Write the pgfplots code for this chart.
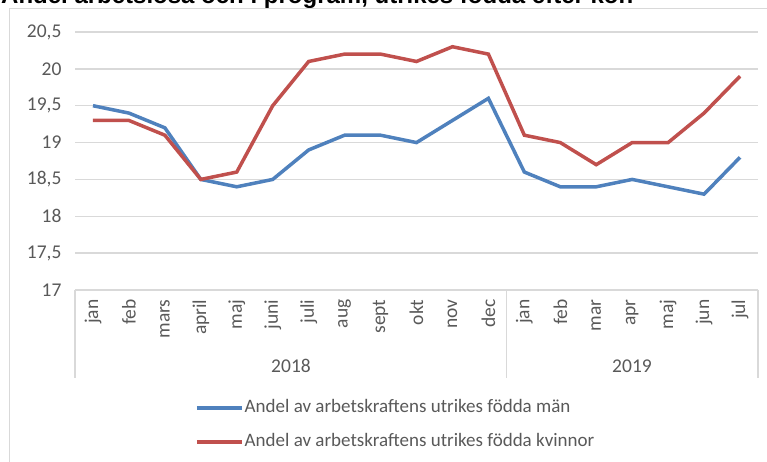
\documentclass[border=0pt]{standalone}
\usepackage{pgfplots}
\pgfplotsset{compat=1.18}
\usepackage{fontspec}
\setmainfont{Carlito}
\newfontfamily\titlefont{Liberation Sans}

\definecolor{menblue}{RGB}{79,129,189}
\definecolor{womenred}{RGB}{192,80,77}
\definecolor{gridgray}{RGB}{217,217,217}
\definecolor{labelgray}{RGB}{89,89,89}

\begin{document}
\begin{tikzpicture}[x=1pt,y=1pt]
% title, mostly cut off by the page edge as in the original
\node[anchor=base west, inner sep=0pt, font=\titlefont\bfseries\fontsize{24}{24}\selectfont]
  at (1,458) {Andel arbetslösa och i program, utrikes födda efter kön};
% outer chart frame
\draw[gridgray, line width=1pt] (9.5,-20) -- (9.5,453.5) -- (800,453.5);

\begin{axis}[
  at={(75pt,172pt)}, anchor=south west,
  scale only axis, width=683pt, height=258pt,
  xmin=-0.5, xmax=18.5, ymin=17, ymax=20.5,
  xtick={0,...,18},
  xticklabels={jan,feb,mars,april,maj,juni,juli,aug,sept,okt,nov,dec,
               jan,feb,mar,apr,maj,jun,jul},
  xticklabel style={rotate=90, anchor=east, xshift=-6pt,
    font=\fontsize{19.5}{19.5}\selectfont, text=labelgray},
  ytick={17,17.5,18,18.5,19,19.5,20,20.5},
  yticklabel style={font=\fontsize{19.5}{19.5}\selectfont, text=labelgray, xshift=-10pt},
  /pgf/number format/.cd, use comma, assume math mode=true, /pgfplots/.cd,
  major tick length=0pt,
  axis x line*=bottom, axis y line*=left,
  x axis line style={gridgray, line width=1.3pt, -},
  y axis line style={draw=none},
  ymajorgrids, grid style={gridgray, line width=1.3pt},
  legend style={at={(rel axis cs:0.1757,-0.419)}, anchor=north west,
    draw=none, fill=none, inner sep=0pt,
    font=\fontsize{19}{19}\selectfont, text=labelgray,
    row sep=15pt, legend cell align=left,
    nodes={inner sep=1pt, text height=13pt, text depth=4pt}},
  legend image code/.code={\draw[#1, line width=3.5pt] (0pt,0pt) -- (45pt,0pt);},
]
\addplot[menblue, line width=3.5pt] coordinates {
  (0,19.5) (1,19.4) (2,19.2) (3,18.5) (4,18.4) (5,18.5) (6,18.9) (7,19.1)
  (8,19.1) (9,19.0) (10,19.3) (11,19.6) (12,18.6) (13,18.4) (14,18.4)
  (15,18.5) (16,18.4) (17,18.3) (18,18.8)};
\addplot[womenred, line width=3.5pt] coordinates {
  (0,19.3) (1,19.3) (2,19.1) (3,18.5) (4,18.6) (5,19.5) (6,20.1) (7,20.2)
  (8,20.2) (9,20.1) (10,20.3) (11,20.2) (12,19.1) (13,19.0) (14,18.7)
  (15,19.0) (16,19.0) (17,19.4) (18,19.9)};
\legend{Andel av arbetskraftens utrikes födda män,
        Andel av arbetskraftens utrikes födda kvinnor}
\end{axis}

% category group separators and year labels
\draw[gridgray, line width=1.3pt] (75,172) -- (75,84);
\draw[gridgray, line width=1.3pt] (506.5,172) -- (506.5,84);
\draw[gridgray, line width=1.3pt] (758,172) -- (758,84);
\node[text=labelgray, font=\fontsize{19.5}{19.5}\selectfont] at (291,96) {2018};
\node[text=labelgray, font=\fontsize{19.5}{19.5}\selectfont] at (632,96) {2019};

\pgfresetboundingbox
\path[use as bounding box] (0,0) rectangle (767,462);
\end{tikzpicture}
\end{document}
